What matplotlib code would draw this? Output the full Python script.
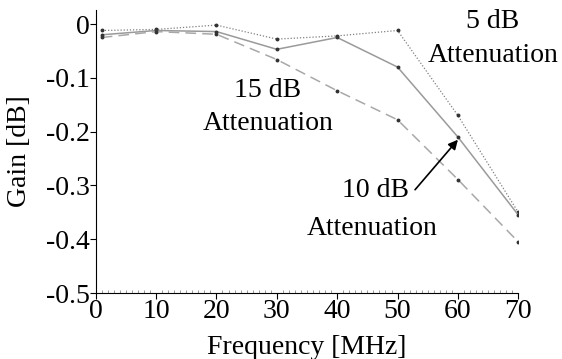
import matplotlib.pyplot as plt
from matplotlib.ticker import MultipleLocator

plt.rcParams['font.family'] = 'Liberation Serif'

freq = [1, 10, 20, 30, 40, 50, 60, 70]
gain_5db = [-0.012, -0.010, -0.002, -0.028, -0.022, -0.012, -0.170, -0.350]
gain_10db = [-0.020, -0.012, -0.014, -0.047, -0.025, -0.080, -0.210, -0.355]
gain_15db = [-0.025, -0.014, -0.019, -0.066, -0.124, -0.178, -0.289, -0.405]

fig = plt.figure(figsize=(5.62, 3.59), dpi=100)
ax = fig.add_axes([0.1703, 0.1838, 0.7519, 0.7882])

ax.plot(freq, gain_5db, linestyle=(0, (1, 1.5)), color='#808080', lw=0.9,
        marker='o', ms=1.8, mfc='#333333', mec='#333333')
ax.plot(freq, gain_10db, linestyle='-', color='#9a9a9a', lw=1.1,
        marker='o', ms=1.8, mfc='#333333', mec='#333333')
ax.plot(freq, gain_15db, linestyle=(0, (7, 4)), color='#a8a8a8', lw=1.1,
        marker='o', ms=1.8, mfc='#333333', mec='#333333')

ax.set_xlim(0, 70)
ax.set_ylim(-0.5, 0.026)
ax.set_yticks([0, -0.1, -0.2, -0.3, -0.4, -0.5])
ax.set_yticklabels(['0', '-0.1', '-0.2', '-0.3', '-0.4', '-0.5'])
ax.set_xticks(range(0, 71, 10))
ax.xaxis.set_minor_locator(MultipleLocator(1))
ax.tick_params(axis='both', which='major', labelsize=20, direction='out', length=4, pad=0)
ax.tick_params(axis='x', which='minor', direction='in', length=2, color='#888888')
ax.spines['top'].set_visible(False)
ax.spines['right'].set_visible(False)

ax.set_xlabel('Frequency [MHz]', fontsize=20, labelpad=8)
ax.set_ylabel('Gain [dB]', fontsize=20, labelpad=10)

ax.text(65.8, 0.004, '5 dB', fontsize=20, ha='center', va='center', clip_on=False)
ax.text(65.8, -0.058, 'Attenuation', fontsize=20, ha='center', va='center', clip_on=False)
ax.text(28.5, -0.123, '15 dB', fontsize=20, ha='center', va='center')
ax.text(28.5, -0.184, 'Attenuation', fontsize=20, ha='center', va='center')
ax.text(46.4, -0.31, '10 dB', fontsize=20, ha='center', va='center')
ax.text(45.8, -0.381, 'Attenuation', fontsize=20, ha='center', va='center')
ax.annotate('', xy=(60, -0.215), xytext=(52.9, -0.308),
            arrowprops=dict(arrowstyle='-|>', color='black', lw=1.2, mutation_scale=14,
                            shrinkA=0, shrinkB=0))

fig.savefig('out.png', dpi=100)
